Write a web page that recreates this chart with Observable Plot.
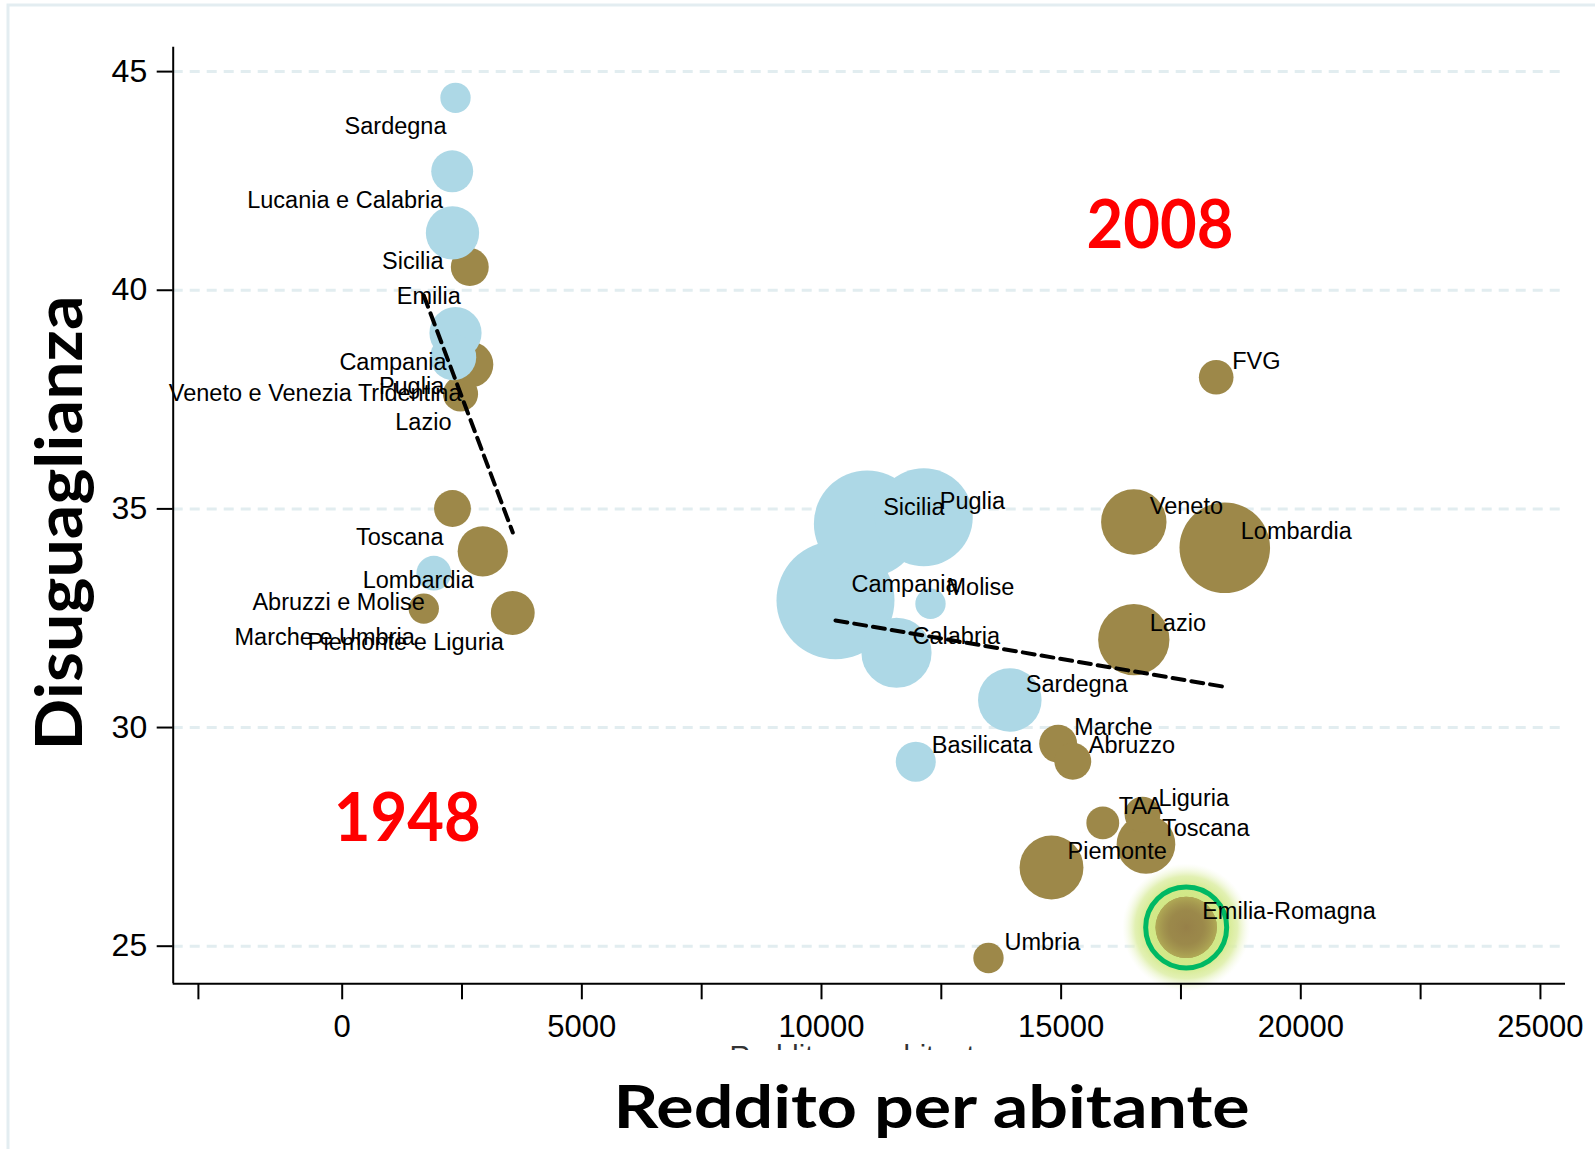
<!DOCTYPE html>
<html>
<head>
<meta charset="utf-8">
<script src="https://cdn.jsdelivr.net/npm/d3@7"></script>
<script src="https://cdn.jsdelivr.net/npm/@observablehq/plot@0.6"></script>
<style>
  html, body { margin: 0; padding: 0; background: #ffffff; }
  svg { display: block; }
</style>
</head>
<body>
<div id="chart"></div>
<script>
// ---- 1948 ----
const regioni1948 = ["Sardegna","Lucania e Calabria","Sicilia","Emilia","Campania","Puglia","Veneto e Venezia Tridentina","Lazio","Toscana","Lombardia","Abruzzi e Molise","Marche e Umbria","Piemonte e Liguria"];
const reddito1948 = [2364, 2295, 2301, 2662, 2364, 2316, 2677, 2468, 2301, 2933, 1911, 1702, 3559];
const disug1948   = [44.40, 42.72, 41.31, 40.53, 39.02, 38.47, 38.30, 37.63, 35.01, 34.03, 33.53, 32.72, 32.62];
const peso1948    = [2.3, 4.4, 7.1, 3.6, 6.8, 5.3, 5.2, 3.1, 3.4, 6.3, 3.0, 2.3, 4.8];
const zona1948    = ["Sud","Sud","Sud","Nord","Sud","Sud","Nord","Nord","Nord","Nord","Sud","Nord","Nord"];

// ---- 2008 ----
const regioni2008 = ["Sicilia","Puglia","Campania","Molise","Calabria","Sardegna","Basilicata","Marche","Abruzzo","FVG","Veneto","Lombardia","Lazio","Umbria","Piemonte","TAA","Liguria","Toscana","Emilia-Romagna"];
const reddito2008 = [10953, 12134, 10292, 12274, 11565, 13929, 11967, 14938, 15243, 18235, 16516, 18414, 16516, 13484, 14799, 15869, 16697, 16770, 17609];
const disug2008   = [34.66, 34.81, 32.91, 32.83, 31.71, 30.63, 29.22, 29.63, 29.23, 38.01, 34.70, 34.11, 32.01, 24.73, 26.80, 27.82, 28.01, 27.33, 25.43];
const peso2008    = [28.4, 24.0, 34.8, 2.3, 12.3, 10.1, 4.0, 3.6, 3.4, 3.0, 10.7, 20.5, 12.7, 2.3, 10.2, 2.7, 3.2, 8.6, 9.4];
const zona2008    = ["Sud","Sud","Sud","Sud","Sud","Sud","Sud","Nord","Nord","Nord","Nord","Nord","Nord","Nord","Nord","Nord","Nord","Nord","Nord"];

// ---- fitted lines (fitted values at the ends) ----
const fitReddito1948 = [1702, 3559];
const fitDisug1948   = [39.88, 34.46];
const fitReddito2008 = [10292, 18414];
const fitDisug2008   = [32.45, 30.93];

// ---- annotations ----
const annoTesto   = ["1948", "2008"];
const annoReddito = [1358, 17062];
const annoDisug   = [27.89, 41.46];

const evidenziata = "Emilia-Romagna";

// ---- axes ----
const yTicks = [25, 30, 35, 40, 45];
const xTicks = [-3000, 0, 2500, 5000, 7500, 10000, 12500, 15000, 17500, 20000, 22500, 25000];
const xTickLabels = [0, 5000, 10000, 15000, 20000, 25000];
const xDomain = [-3526, 25523];
const yDomain = [24.14, 45.558];

// ---- build tables ----
const dati = [
  ...regioni1948.map((r, i) => ({regione: r, anno: 1948, reddito: reddito1948[i], disug: disug1948[i], peso: peso1948[i], zona: zona1948[i]})),
  ...regioni2008.map((r, i) => ({regione: r, anno: 2008, reddito: reddito2008[i], disug: disug2008[i], peso: peso2008[i], zona: zona2008[i]}))
];
const fit1948 = fitReddito1948.map((x, i) => ({reddito: x, disug: fitDisug1948[i]}));
const fit2008 = fitReddito2008.map((x, i) => ({reddito: x, disug: fitDisug2008[i]}));
const annotazioni = annoTesto.map((t, i) => ({testo: t, reddito: annoReddito[i], disug: annoDisug[i]}));
const highlight = dati.filter(d => d.anno === 2008 && d.regione === evidenziata);

const BLUE = "#add8e6";
const BROWN = "#9d8849";

const chart = Plot.plot({
  width: 1595,
  height: 1149,
  marginLeft: 172.7,
  marginRight: 30,
  marginTop: 46.7,
  marginBottom: 165.7,
  style: {fontFamily: "'Liberation Sans', Arial, sans-serif", background: "#ffffff", color: "#000"},
  x: {domain: xDomain, axis: null},
  y: {domain: yDomain, axis: null},
  r: {type: "sqrt", domain: [0, 100], range: [0, 100]},
  marks: [
    Plot.gridY(yTicks, {stroke: "#e2edf0", strokeOpacity: 1, strokeWidth: 3, strokeDasharray: "10,7"}),
    // glow around the highlighted region
    Plot.dot(highlight, {x: "reddito", y: "disug", r: 64, fill: "url(#glow)", stroke: "none"}),
    Plot.dot(dati.filter(d => d.zona === "Nord"), {x: "reddito", y: "disug", r: "peso", fill: BROWN, stroke: "none"}),
    Plot.dot(dati.filter(d => d.zona === "Sud"), {x: "reddito", y: "disug", r: "peso", fill: BLUE, stroke: "none"}),
    Plot.dot(highlight, {x: "reddito", y: "disug", r: "peso", fill: "url(#bubbleglow)", stroke: "none"}),
    Plot.dot(highlight, {x: "reddito", y: "disug", r: 40.5, fill: "none", stroke: "#00b864", strokeWidth: 5}),
    Plot.line(fit1948, {x: "reddito", y: "disug", stroke: "#000", strokeWidth: 4, strokeDasharray: "12,7"}),
    Plot.line(fit2008, {x: "reddito", y: "disug", stroke: "#000", strokeWidth: 4, strokeDasharray: "12,7"}),
    Plot.text(dati.filter(d => d.anno === 1948), {x: "reddito", y: "disug", text: "regione", textAnchor: "end", dx: -9, dy: 29, fontSize: 23.5, fill: "#000"}),
    Plot.text(dati.filter(d => d.anno === 2008), {x: "reddito", y: "disug", text: "regione", textAnchor: "start", dx: 16, dy: -16, fontSize: 23.5, fill: "#000"}),
    Plot.text(annotazioni, {x: "reddito", y: "disug", text: "testo", fontSize: 66, fontWeight: "bold", fontFamily: "Lato, 'Open Sans', sans-serif", fill: "#ff0000", textAnchor: "middle"}),
    Plot.ruleX([xDomain[0]], {stroke: "#000", strokeWidth: 2}),
    Plot.ruleY([yDomain[0]], {stroke: "#000", strokeWidth: 2}),
    Plot.axisY(yTicks, {tickSize: 16, tickPadding: 10, fontSize: 32, label: null, strokeWidth: 2}),
    Plot.axisX(xTicks, {tickSize: 16, tickPadding: 15, fontSize: 31, label: null, strokeWidth: 2,
      tickFormat: d => xTickLabels.includes(d) ? String(d) : ""})
  ]
});

document.getElementById("chart").appendChild(chart);

const svg = d3.select(chart);
const defs = svg.insert("defs", ":first-child");
const g1 = defs.append("radialGradient").attr("id", "glow");
g1.append("stop").attr("offset", "0%").attr("stop-color", "#cce57c").attr("stop-opacity", 1);
g1.append("stop").attr("offset", "62%").attr("stop-color", "#d3e98a").attr("stop-opacity", 1);
g1.append("stop").attr("offset", "80%").attr("stop-color", "#ddeea6").attr("stop-opacity", 0.85);
g1.append("stop").attr("offset", "100%").attr("stop-color", "#f2f8de").attr("stop-opacity", 0);
const g2 = defs.append("radialGradient").attr("id", "bubbleglow");
g2.append("stop").attr("offset", "0%").attr("stop-color", "#967f48").attr("stop-opacity", 0.9);
g2.append("stop").attr("offset", "55%").attr("stop-color", "#9a894b").attr("stop-opacity", 0.6);
g2.append("stop").attr("offset", "100%").attr("stop-color", "#b1ab56").attr("stop-opacity", 0.95);

// stretch the red annotations to the reference width
svg.selectAll("text").filter(function() { return annoTesto.includes(this.textContent); })
  .attr("textLength", 147).attr("lengthAdjust", "spacingAndGlyphs");

// figure border
svg.append("rect").attr("x", 8).attr("y", 5).attr("width", 1620).attr("height", 1170)
  .attr("fill", "none").attr("stroke", "#e3edf1").attr("stroke-width", 3);

// faint, partly hidden small axis title (as in the reference)
const clip = defs.append("clipPath").attr("id", "cliptitle");
clip.append("rect").attr("x", 0).attr("y", 0).attr("width", 1595).attr("height", 1050);
svg.append("text").attr("x", 860).attr("y", 1066).attr("text-anchor", "middle")
  .attr("clip-path", "url(#cliptitle)")
  .attr("font-family", "'Liberation Sans', Arial, sans-serif").attr("font-size", 29).attr("fill", "#333")
  .text("Reddito per abitante");

// big axis titles
svg.append("text").attr("transform", "translate(81.7,523) rotate(-90)").attr("text-anchor", "middle")
  .attr("font-family", "Lato, 'Open Sans', sans-serif").attr("font-weight", "bold").attr("font-size", 65)
  .attr("textLength", 455).attr("lengthAdjust", "spacingAndGlyphs").attr("fill", "#000")
  .text("Disuguaglianza");
svg.append("text").attr("x", 931.6).attr("y", 1128.3).attr("text-anchor", "middle")
  .attr("font-family", "Lato, 'Open Sans', sans-serif").attr("font-weight", "bold").attr("font-size", 60)
  .attr("textLength", 636).attr("lengthAdjust", "spacingAndGlyphs").attr("fill", "#000")
  .text("Reddito per abitante");
</script>
</body>
</html>
